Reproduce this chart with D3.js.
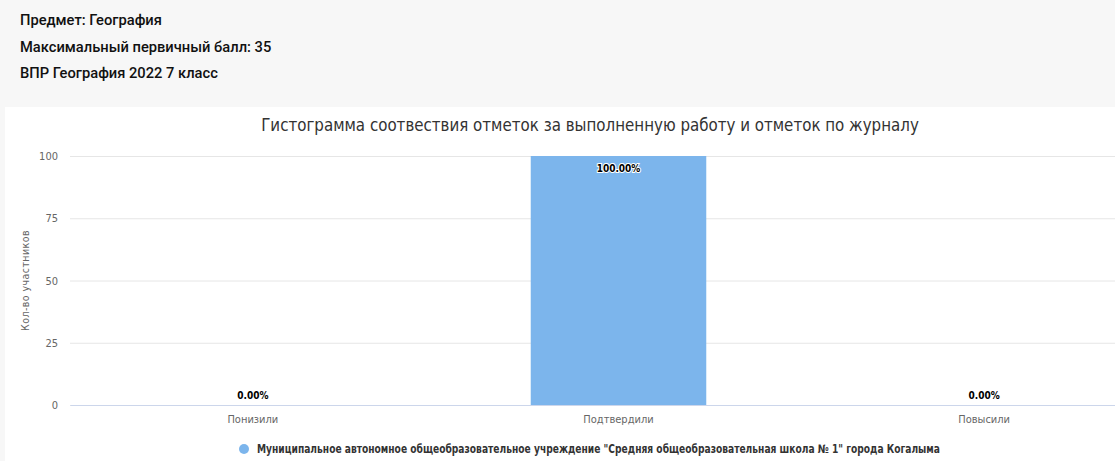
<!DOCTYPE html>
<html>
<head>
<meta charset="utf-8">
<script src="https://cdn.jsdelivr.net/npm/d3@7"></script>
<style>
  body { margin: 0; background: #f7f7f7; overflow: hidden; }
  .info { position: absolute; left: 20px; top: 0; font-family: Roboto, sans-serif; font-weight: 500; font-size: 14.7px; color: #111; }
  .info div { height: 26.5px; line-height: 26.5px; }
  .info div:first-child { margin-top: 7px; }
  svg { position: absolute; left: 5px; top: 107px; background: #fff; }
  text { font-family: "DejaVu Sans Condensed", sans-serif; }
</style>
</head>
<body>
<div class="info">
  <div>Предмет: География</div>
  <div>Максимальный первичный балл: 35</div>
  <div>ВПР География 2022 7 класс</div>
</div>
<svg id="chart"></svg>
<script>
const categories = ["Понизили", "Подтвердили", "Повысили"];
const values = [0, 100, 0];
const valueLabels = ["0.00%", "100.00%", "0.00%"];
const yTicks = [0, 25, 50, 75, 100];
const seriesName = "Муниципальное автономное общеобразовательное учреждение \"Средняя общеобразовательная школа № 1\" города Когалыма";
const titleText = "Гистограмма соотвествия отметок за выполненную работу и отметок по журналу";
const yTitle = "Кол-во участников";

const width = 1110;
const height = 354;
// plot area (svg coords); it runs past the right edge like the original
const plotLeft = 65;
const plotRight = 1162;
const plotTop = 49;
const plotBottom = 298;

const svg = d3.select("#chart").attr("width", width).attr("height", height);

const xScale = d3.scaleBand().domain(categories).range([plotLeft, plotRight]);
const yScale = d3.scaleLinear().domain([0, 100]).range([plotBottom, plotTop]);

// title
svg.append("text")
  .attr("x", 585)
  .attr("y", 24)
  .attr("text-anchor", "middle")
  .attr("font-size", 16.75)
  .attr("fill", "#333")
  .text(titleText);

// grid
const yAxis = d3.axisLeft(yScale).tickValues(yTicks).tickSize(-(plotRight - plotLeft)).tickPadding(12);
const gy = svg.append("g").attr("transform", `translate(${plotLeft}, 0)`).call(yAxis);
gy.select(".domain").remove();
gy.selectAll(".tick line").attr("stroke", "#e6e6e6");
gy.selectAll(".tick text").attr("fill", "#666").attr("font-size", 11)
  .attr("font-family", "\"DejaVu Sans Condensed\", sans-serif");

svg.append("text")
  .attr("transform", `translate(24, ${(plotTop + plotBottom) / 2}) rotate(-90)`)
  .attr("text-anchor", "middle")
  .attr("font-size", 10.5)
  .attr("letter-spacing", 0.45)
  .attr("fill", "#666")
  .text(yTitle);

// bars
const barWidth = xScale.bandwidth() * 0.48;
svg.selectAll("rect.bar")
  .data(values)
  .enter()
  .append("rect")
  .attr("class", "bar")
  .attr("x", (d, i) => xScale(categories[i]) + xScale.bandwidth() / 2 - barWidth / 2)
  .attr("y", (d) => yScale(d))
  .attr("width", barWidth)
  .attr("height", (d) => plotBottom - yScale(d))
  .attr("fill", "#7cb5ec");

// x axis
const xAxis = d3.axisBottom(xScale).tickSize(0).tickPadding(10);
const gx = svg.append("g").attr("transform", `translate(0, ${plotBottom})`).call(xAxis);
gx.select(".domain").attr("stroke", "#ccd6eb");
gx.selectAll(".tick text").attr("fill", "#666").attr("font-size", 11)
  .attr("font-family", "\"DejaVu Sans Condensed\", sans-serif");

// data labels
svg.selectAll("text.dl")
  .data(values)
  .enter()
  .append("text")
  .attr("class", "dl")
  .attr("x", (d, i) => xScale(categories[i]) + xScale.bandwidth() / 2)
  .attr("y", (d) => (d > 0 ? yScale(d) + 16 : yScale(d) - 6))
  .attr("text-anchor", "middle")
  .attr("font-size", 10)
  .attr("font-weight", "bold")
  .attr("fill", "#000")
  .attr("stroke", "#fff")
  .attr("stroke-width", 2)
  .attr("paint-order", "stroke")
  .text((d, i) => valueLabels[i]);

// legend
const legend = svg.append("g").attr("transform", "translate(239, 342)");
legend.append("circle").attr("cx", 0).attr("cy", 0).attr("r", 5).attr("fill", "#7cb5ec");
legend.append("text")
  .attr("x", 13)
  .attr("y", 4)
  .attr("font-size", 11.5)
  .attr("font-weight", "bold")
  .attr("fill", "#333")
  .attr("textLength", 683)
  .attr("lengthAdjust", "spacingAndGlyphs")
  .text(seriesName);
</script>
</body>
</html>
